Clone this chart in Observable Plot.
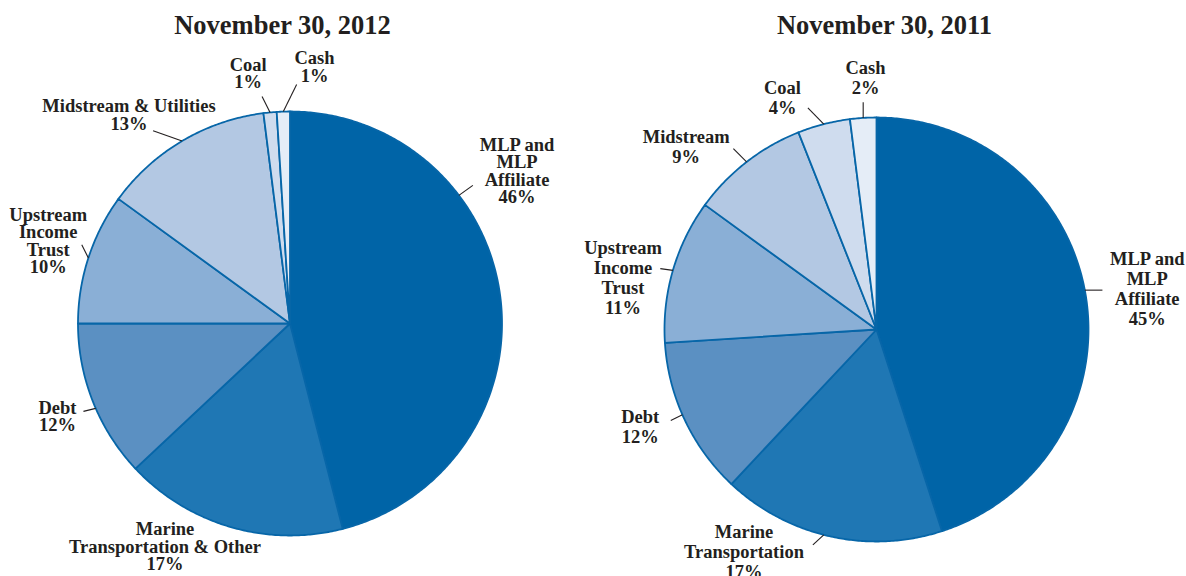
<!DOCTYPE html>
<html>
<head>
<meta charset="utf-8">
<script src="https://cdn.jsdelivr.net/npm/d3@7"></script>
<script src="https://cdn.jsdelivr.net/npm/@observablehq/plot@0.6"></script>
<style>
  html, body { margin: 0; padding: 0; background: #fff; }
  #row { display: flex; width: 1186px; height: 576px; }
</style>
</head>
<body>
<div id="row"></div>
<script>
// ---- data ----
const titles = ["November 30, 2012", "November 30, 2011"];
const categories2012 = ["MLP and\nMLP\nAffiliate", "Marine\nTransportation & Other", "Debt", "Upstream\nIncome\nTrust", "Midstream & Utilities", "Coal", "Cash"];
const values2012 = [46, 17, 12, 10, 13, 1, 1];
const categories2011 = ["MLP and\nMLP\nAffiliate", "Marine\nTransportation", "Debt", "Upstream\nIncome\nTrust", "Midstream", "Coal", "Cash"];
const values2011 = [45, 17, 12, 11, 9, 4, 2];

// ---- styles ----
const palette = ["#0064a7", "#1f77b4", "#5b90c2", "#8aafd6", "#b3c8e3", "#cfdcee", "#e5edf7"];
const edge = "#0766a8";
const ink = "#231f20";
const font = "'Liberation Serif', 'Times New Roman', serif";

// ---- layout (pixels; pie radius R) ----
const R = 212;
const W = 593, H = 576;
const layout2012 = {
  cx: 289.5, cy: 323, title: [-7.5, 298], lineHeight: 0.95,
  labels: [
    {lx: 227, ly: 152, ldx: 14, ldy: 10, shift: -30},
    {lx: -125, ly: -223.5, ldx: 0, ldy: 0, shift: 0},
    {lx: -232.5, ly: -93.3, ldx: -12.3, ldy: -3, shift: -2},
    {lx: -241.8, ly: 82, ldx: -6.6, ldy: 13.3, shift: 0},
    {lx: -161, ly: 208, ldx: -29, ldy: 10.3, shift: 0},
    {lx: -41.8, ly: 249.7, ldx: -8, ldy: 16, shift: 0},
    {lx: 24.5, ly: 256, ldx: 13.3, ldy: 27, shift: 0}
  ]
};
const layout2011 = {
  cx: 283, cy: 329, title: [8, 304], lineHeight: 1.08,
  labels: [
    {lx: 270.7, ly: 40.7, ldx: 17.6, ldy: 0, shift: -1.7},
    {lx: -132.5, ly: -221.7, ldx: -10.9, ldy: -10, shift: 1.8},
    {lx: -236.3, ly: -97.3, ldx: -11.6, ldy: -5.7, shift: 1.5},
    {lx: -253.5, ly: 52.3, ldx: -12.6, ldy: 1.7, shift: 0},
    {lx: -190.3, ly: 182.7, ldx: -13.2, ldy: 13.3, shift: 0},
    {lx: -94, ly: 231.7, ldx: -15.9, ldy: 16.3, shift: 0},
    {lx: -11, ly: 252, ldx: 0, ldy: 15.6, shift: 0}
  ]
};

function pieChart(title, categories, values, L) {
  const arcs = d3.pie().sort(null).value(d => d)(values);
  const sliceMarks = arcs.map((a, i) => {
    const pts = [{x: 0, y: 0}];
    const n = Math.max(2, Math.ceil((a.endAngle - a.startAngle) / (Math.PI / 360)));
    for (let j = 0; j <= n; j++) {
      const t = a.startAngle + (a.endAngle - a.startAngle) * j / n;
      pts.push({x: R * Math.sin(t), y: R * Math.cos(t)});
    }
    return Plot.line(pts, {x: "x", y: "y", fill: palette[i], stroke: edge, strokeWidth: 1.8,
      strokeLinejoin: "round", curve: "linear-closed"});
  });
  const labels = arcs.map((a, i) => {
    const lay = L.labels[i];
    const t = (a.startAngle + a.endAngle) / 2 + lay.shift * Math.PI / 180;
    const x1 = R * Math.sin(t), y1 = R * Math.cos(t);
    return {
      text: categories[i] + "\n" + values[i] + "%",
      lx: lay.lx, ly: lay.ly,
      x1, y1, x2: x1 + lay.ldx, y2: y1 + lay.ldy,
      hasLeader: lay.ldx !== 0 || lay.ldy !== 0
    };
  });
  return Plot.plot({
    width: W, height: H,
    marginLeft: L.cx - R, marginRight: W - L.cx - R,
    marginTop: L.cy - R, marginBottom: H - L.cy - R,
    x: {domain: [-R, R], axis: null},
    y: {domain: [-R, R], axis: null},
    style: {fontFamily: font, background: "white", overflow: "visible"},
    marks: [
      ...sliceMarks,
      Plot.link(labels.filter(d => d.hasLeader), {x1: "x1", y1: "y1", x2: "x2", y2: "y2",
        stroke: ink, strokeWidth: 1.1}),
      Plot.text(labels, {x: "lx", y: "ly", text: "text", fontSize: 18.5, fontWeight: "bold",
        fontFamily: font, fill: ink, textAnchor: "middle", lineAnchor: "middle",
        lineHeight: L.lineHeight}),
      Plot.text([title], {x: () => L.title[0], y: () => L.title[1], text: d => d,
        fontSize: 26.5, fontWeight: "bold", fontFamily: font, fill: ink, textAnchor: "middle"})
    ]
  });
}

const row = document.getElementById("row");
row.append(pieChart(titles[0], categories2012, values2012, layout2012));
row.append(pieChart(titles[1], categories2011, values2011, layout2011));
</script>
</body>
</html>
